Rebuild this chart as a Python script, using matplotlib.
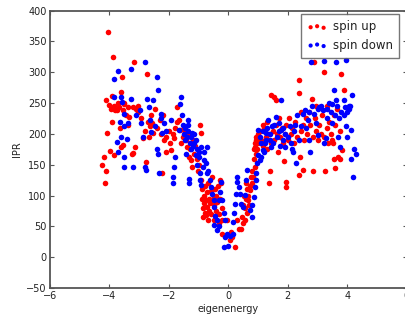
import matplotlib
matplotlib.use("Agg")
import matplotlib.pyplot as plt

# spin up (red)
up_e = [-4.24, -4.17, -4.14, -4.10, -4.13, -4.06, -4.08, -4.00, -3.97, -3.94, -3.91, -3.91, -3.89, -3.86,
        -3.83, -3.80, -3.74, -3.70, -3.67, -3.64, -3.61, -3.61, -3.59, -3.56, -3.56, -3.52, -3.50, -3.45,
        -3.39, -3.36, -3.33, -3.23, -3.22, -3.20, -3.19, -3.14, -3.11, -3.05, -3.03, -2.95, -2.86, -2.80,
        -2.76, -2.72, -2.70, -2.67, -2.63, -2.61, -2.56, -2.52, -2.48, -2.40, -2.30, -2.25, -2.22, -2.21,
        -2.15, -2.11, -2.09, -2.00, -1.95, -1.92, -1.85, -1.83, -1.78, -1.72, -1.67, -1.74, -1.61, -1.60,
        -1.54, -1.50, -1.47, -1.42, -1.39, -1.35, -1.33, -1.30, -1.26, -1.22, -1.20, -1.17, -1.12, -1.06,
        -1.03, -0.98, -0.94, -0.91, -0.92, -0.90, -0.88, -0.87, -0.85, -0.83, -0.82, -0.80, -0.78, -0.76,
        -0.75, -0.73, -0.72, -0.70, -0.68, -0.66, -0.65, -0.62, -0.60, -0.58, -0.55, -0.53, -0.50, -0.48,
        -0.45, -0.42, -0.40, -0.38, -0.35, -0.33, -0.30, -0.28, -0.27, -0.25, -0.22, -0.20, -0.20, -0.05,
        0.09, 0.13, 0.21, 0.06, 0.30, 0.37, 0.43, 0.45, 0.48, 0.50, 0.52, 0.55, 0.56, 0.58, 0.60, 0.61,
        0.62, 0.65, 0.67, 0.70, 0.72, 0.74, 0.75, 0.78, 0.80, 0.83, 0.85, 0.87, 0.89, 0.89, 0.90, 0.92,
        0.94, 0.94, 0.97, 1.00, 1.00, 1.05, 1.10, 1.15, 1.15, 1.20, 1.25, 1.30, 1.30, 1.35, 1.37, 1.41,
        1.44, 1.45, 1.50, 1.52, 1.55, 1.60, 1.61, 1.65, 1.67, 1.70, 1.75, 1.80, 1.85, 1.87, 1.90, 1.94,
        1.94, 1.95, 2.00, 2.05, 2.10, 2.15, 2.20, 2.25, 2.30, 2.36, 2.36, 2.39, 2.42, 2.45, 2.45, 2.50,
        2.52, 2.55, 2.60, 2.65, 2.70, 2.75, 2.81, 2.83, 2.85, 2.87, 2.90, 2.95, 2.95, 3.00, 3.05, 3.10,
        3.15, 3.20, 3.22, 3.26, 3.30, 3.30, 3.35, 3.40, 3.45, 3.50, 3.52, 3.55, 3.56, 3.59, 3.60, 3.65,
        3.70, 3.74, 3.75, 3.78, 3.83, 3.89]
up_ipr = [150, 163, 120, 139, 255, 366, 202, 247, 172, 241, 220, 261, 325, 166,
          245, 238, 239, 250, 244, 209, 268, 179, 292, 182, 239, 250, 248, 230,
          244, 215, 228, 168, 243, 169, 316, 179, 241, 236, 245, 225, 193, 205,
          154, 297, 220, 195, 212, 231, 217, 201, 241, 210, 222, 200, 136, 231,
          190, 171, 195, 205, 185, 174, 200, 193, 210, 243, 222, 220, 206, 185,
          195, 210, 204, 190, 179, 200, 163, 175, 157, 147, 190, 168, 180, 160,
          139, 150, 214, 201, 125, 110, 95, 80, 65, 100, 88, 72, 115, 92,
          68, 105, 82, 60, 120, 95, 75, 88, 108, 70, 130, 95, 85, 60,
          110, 75, 100, 90, 115, 70, 55, 95, 125, 120, 80, 60, 38, 60,
          41, 32, 17, 28, 60, 45, 45, 65, 85, 55, 100, 80, 60, 120, 95, 71,
          110, 100, 92, 85, 115, 109, 130, 140, 120, 130, 160, 175, 147, 179, 185, 195,
          168, 190, 175, 200, 185, 205, 190, 180, 215, 210, 195, 175, 220, 200, 121, 140,
          263, 185, 205, 260, 190, 215, 255, 200, 171, 225, 195, 210, 185, 156, 200, 122,
          114, 215, 190, 225, 200, 210, 185, 220, 195, 288, 133, 267, 163, 205, 235, 215,
          141, 190, 225, 200, 235, 215, 257, 139, 195, 317, 225, 205, 245, 190, 215, 200,
          230, 195, 301, 139, 210, 245, 185, 220, 200, 190, 185, 230, 160, 144, 215, 240,
          163, 160, 205, 297, 174, 271]

# spin down (blue)
down_e = [-3.83, -3.72, -3.83, -3.63, -3.50, -3.61, -3.74, -3.70, -3.52, -3.50, -3.41, -3.61, -3.58, -3.50,
          -3.39, -3.28, -3.28, -3.22, -3.11, -2.97, -2.94, -2.86, -2.81, -2.79, -2.78, -2.72, -2.67, -2.63,
          -2.59, -2.54, -2.47, -2.39, -2.37, -2.39, -2.36, -2.33, -2.28, -2.26, -2.22, -2.17, -2.11, -1.92,
          -1.87, -1.86, -1.83, -1.80, -1.67, -1.61, -1.58, -1.56, -1.52, -1.50, -1.47, -1.45, -1.44, -1.40,
          -1.37, -1.36, -1.35, -1.33, -1.33, -1.30, -1.26, -1.25, -1.22, -1.20, -1.17, -1.15, -1.10, -1.08,
          -1.06, -1.05, -1.00, -1.00, -0.97, -0.94, -0.92, -0.91, -0.86, -0.81, -0.81, -0.74, -0.72, -0.72,
          -0.67, -0.63, -0.59, -0.56, -0.50, -0.48, -0.44, -0.39, -0.33, -0.50, -0.37, -0.30, -0.24, -0.28,
          -0.22, -0.14, -0.11, -0.06, -0.11, -0.14, 0.00, 0.06, 0.14, 0.17, 0.20, 0.22, 0.26, 0.30,
          0.30, 0.37, 0.39, 0.41, 0.48, 0.56, 0.59, 0.61, 0.72, 0.78, 0.81, 0.86, 0.89, 0.94,
          0.92, 0.97, 1.00, 0.98, 1.05, 1.06, 1.10, 1.11, 1.15, 1.17, 1.20, 1.22, 1.25, 1.28,
          1.30, 1.33, 1.39, 1.40, 1.44, 1.48, 1.50, 1.55, 1.61, 1.65, 1.70, 1.70, 1.75, 1.78,
          1.78, 1.83, 1.85, 1.89, 1.90, 2.00, 2.06, 2.10, 2.14, 2.17, 2.20, 2.25, 2.28, 2.30,
          2.39, 2.44, 2.50, 2.59, 2.60, 2.67, 2.70, 2.72, 2.76, 2.78, 2.80, 2.89, 2.94, 3.00,
          3.00, 3.06, 3.11, 3.17, 3.22, 3.22, 3.28, 3.30, 3.33, 3.39, 3.44, 3.48, 3.50, 3.56,
          3.60, 3.61, 3.63, 3.64, 3.67, 3.72, 3.74, 3.80, 3.89, 3.90, 3.92, 3.94, 3.97, 4.00,
          4.00, 4.05, 4.06, 4.08, 4.11, 4.14, 4.17, 4.20, 4.22, 4.28]
down_ipr = [260, 302, 289, 220, 212, 195, 186, 171, 163, 147, 191, 260, 252, 233,
            217, 256, 306, 147, 230, 239, 217, 195, 317, 147, 141, 256, 244, 222,
            203, 255, 212, 293, 271, 176, 168, 136, 233, 225, 201, 217, 204, 222,
            130, 121, 147, 163, 206, 248, 260, 230, 214, 200, 190, 210, 168, 195,
            222, 214, 205, 127, 120, 185, 195, 175, 201, 180, 185, 200, 165, 190,
            176, 150, 163, 170, 136, 125, 117, 179, 147, 157, 171, 152, 136, 179,
            139, 125, 114, 103, 92, 82, 67, 60, 50, 52, 44, 92, 122, 106,
            92, 71, 60, 38, 33, 17, 18, 34, 38, 57, 71, 87, 103, 122,
            130, 114, 103, 87, 82, 101, 125, 141, 76, 65, 84, 98, 114, 125,
            136, 152, 166, 206, 195, 157, 185, 163, 205, 174, 170, 185, 190, 201,
            210, 222, 190, 200, 179, 212, 185, 215, 228, 195, 217, 205, 180, 255,
            206, 190, 210, 179, 200, 195, 212, 185, 176, 171, 205, 215, 152, 230,
            190, 212, 233, 239, 210, 222, 235, 190, 171, 317, 245, 233, 217, 198,
            240, 244, 246, 239, 318, 185, 193, 240, 225, 250, 236, 217, 248, 271,
            230, 317, 255, 246, 195, 225, 179, 235, 255, 230, 244, 320, 212, 195,
            235, 245, 241, 246, 160, 206, 263, 130, 176, 168]

fig = plt.figure(figsize=(4.06, 3.2), dpi=100)
ax = fig.add_axes([0.123, 0.1, 0.879, 0.867])

ax.scatter(up_e, up_ipr, s=16, color="#ff0000", linewidths=0, label="spin up")
ax.scatter(down_e, down_ipr, s=16, color="#0000ff", linewidths=0, label="spin down")

ax.set_xlim(-6, 6)
ax.set_ylim(-50, 400)
ax.set_xticks(range(-6, 7, 2))
ax.set_yticks(range(-50, 401, 50))
ax.tick_params(direction="in", top=True, right=True, labelsize=7, length=3,
               color="#555555", labelcolor="#222222", pad=2.5)
for sp in ax.spines.values():
    sp.set_color("#555555")
    sp.set_linewidth(1.3)
ax.set_xlabel("eigenenergy", fontsize=7, color="#222222", labelpad=2)
ax.set_ylabel("IPR", fontsize=7, color="#222222", labelpad=3)

leg = ax.legend(loc="upper right", scatterpoints=3, fontsize=8.5, fancybox=False,
                bbox_to_anchor=(0.978, 0.986), borderaxespad=0, handletextpad=0.5,
                markerscale=0.75, borderpad=0.5, labelspacing=0.45, handlelength=1.7)
leg.get_frame().set_edgecolor("#555555")
leg.get_frame().set_linewidth(1.0)
for t in leg.get_texts():
    t.set_color("#222222")

fig.savefig("out.png", dpi=100)
